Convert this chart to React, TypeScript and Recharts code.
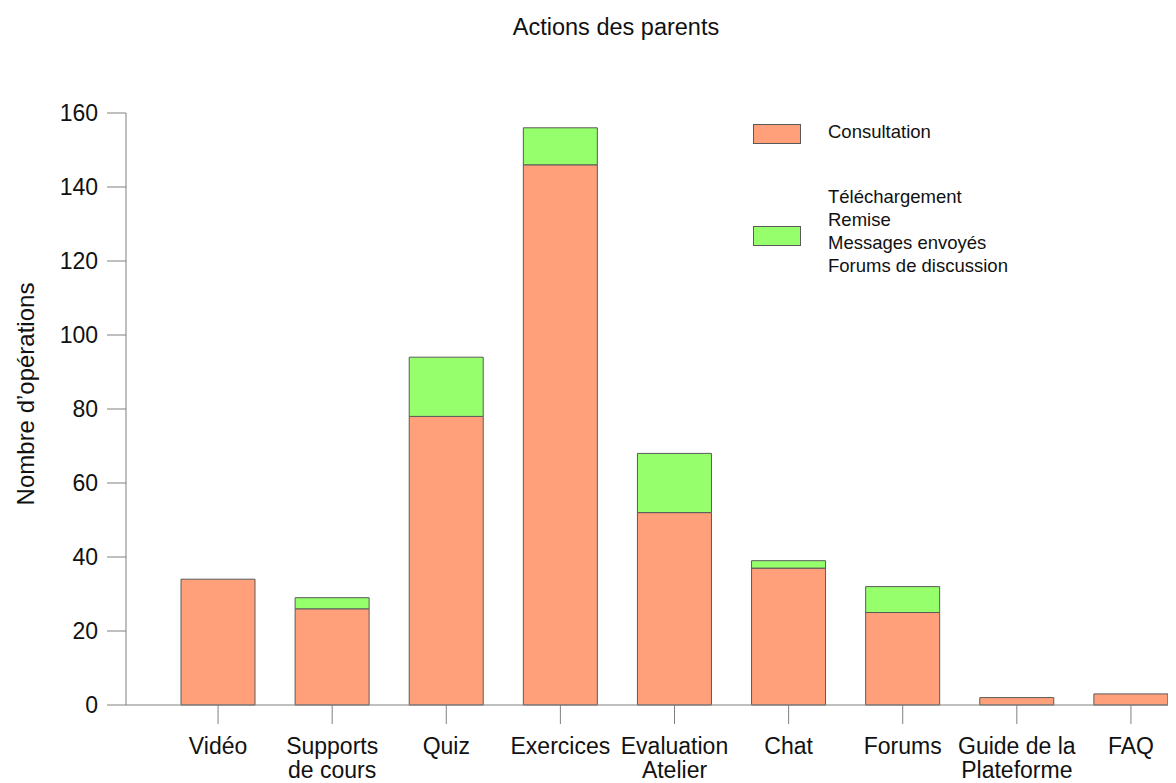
import { BarChart, Bar, XAxis, YAxis, Legend } from "recharts";

const categories = [
  "Vidéo",
  "Supports\nde cours",
  "Quiz",
  "Exercices",
  "Evaluation\nAtelier",
  "Chat",
  "Forums",
  "Guide de la\nPlateforme",
  "FAQ",
];
const consultation = [34, 26, 78, 146, 52, 37, 25, 2, 3];
const autresActions = [0, 3, 16, 10, 16, 2, 7, 0, 0];
const yTicks = [0, 20, 40, 60, 80, 100, 120, 140, 160];
const seriesNames = [
  "Consultation",
  "Téléchargement\nRemise\nMessages envoyés\nForums de discussion",
];
const chartTitle = "Actions des parents";
const yTitle = "Nombre d’opérations";

const FONT = '"Liberation Sans", Arial, Helvetica, sans-serif';
const SALMON = "#ffa07a";
const GREEN = "#96ff6c";
const EDGE = "#5a5a5a";
const AXIS = "#808080";

const data = categories.map((cat, i) => ({
  cat,
  consultation: consultation[i],
  autres: autresActions[i],
}));

function CategoryTick({ x, y, payload }: any) {
  const lines = String(payload.value).split("\n");
  return (
    <text x={x} y={y} textAnchor="middle" fontSize={23} fill="#111" fontFamily={FONT}>
      {lines.map((l, i) => (
        <tspan key={i} x={x} dy={i === 0 ? 28 : 24}>
          {l}
        </tspan>
      ))}
    </text>
  );
}

function YTitle({ viewBox }: any) {
  const cx = 17;
  const cy = viewBox.y + viewBox.height / 2 - 15;
  return (
    <text
      x={cx}
      y={cy}
      transform={`rotate(-90 ${cx} ${cy})`}
      textAnchor="middle"
      dominantBaseline="central"
      fontSize={24}
      fill="#111"
      fontFamily={FONT}
    >
      {yTitle}
    </text>
  );
}

function LegendBox() {
  const colors = [SALMON, GREEN];
  const box = (color: string, top: number) => (
    <div
      style={{
        position: "absolute",
        left: 0,
        top,
        width: 48,
        height: 20,
        background: color,
        border: `1px solid ${EDGE}`,
        boxSizing: "border-box",
      }}
    />
  );
  const text = (lines: string[], top: number) => (
    <div
      style={{
        position: "absolute",
        left: 75,
        top,
        fontSize: 18.5,
        lineHeight: "23px",
        color: "#111",
        fontFamily: FONT,
        whiteSpace: "nowrap",
      }}
    >
      {lines.map((l, i) => (
        <div key={i}>{l}</div>
      ))}
    </div>
  );
  return (
    <div style={{ position: "relative", width: 280, height: 180 }}>
      {box(colors[0], 16)}
      {text(seriesNames[0].split("\n"), 12)}
      {box(colors[1], 118)}
      {text(seriesNames[1].split("\n"), 77)}
    </div>
  );
}

export default function App() {
  return (
    <div style={{ position: "relative", width: 1168, height: 775 }}>
      <div
        style={{
          position: "absolute",
          left: 0,
          width: 1216,
          top: 6,
          textAlign: "center",
          fontSize: 23.5,
          fontFamily: FONT,
          color: "#111",
          whiteSpace: "nowrap",
        }}
      >
        {chartTitle}
      </div>
      <BarChart
        width={1168}
        height={775}
        data={data}
        margin={{ top: 105, right: 8, bottom: 0, left: 0 }}
        barSize={74}
      >
        <XAxis
          dataKey="cat"
          height={78}
          interval={0}
          padding={{ left: 35, right: -20 }}
          stroke={AXIS}
          tickSize={19}
          tickMargin={2}
          tick={<CategoryTick />}
        />
        <YAxis
          width={118}
          domain={[0, 160]}
          ticks={yTicks}
          stroke={AXIS}
          tickSize={19}
          tickMargin={9}
          tick={{ fontSize: 23, fill: "#111", fontFamily: FONT }}
          label={<YTitle />}
        />
        <Legend
          layout="horizontal"
          verticalAlign="middle"
          align="center"
          content={() => <LegendBox />}
          wrapperStyle={{ left: 745, top: 100, width: 280, height: 180 }}
        />
        <Bar
          dataKey="consultation"
          name={seriesNames[0]}
          stackId="s"
          fill={SALMON}
          stroke={EDGE}
          strokeWidth={1}
          isAnimationActive={false}
        />
        <Bar
          dataKey="autres"
          name={seriesNames[1]}
          stackId="s"
          fill={GREEN}
          stroke={EDGE}
          strokeWidth={1}
          isAnimationActive={false}
        />
      </BarChart>
    </div>
  );
}
